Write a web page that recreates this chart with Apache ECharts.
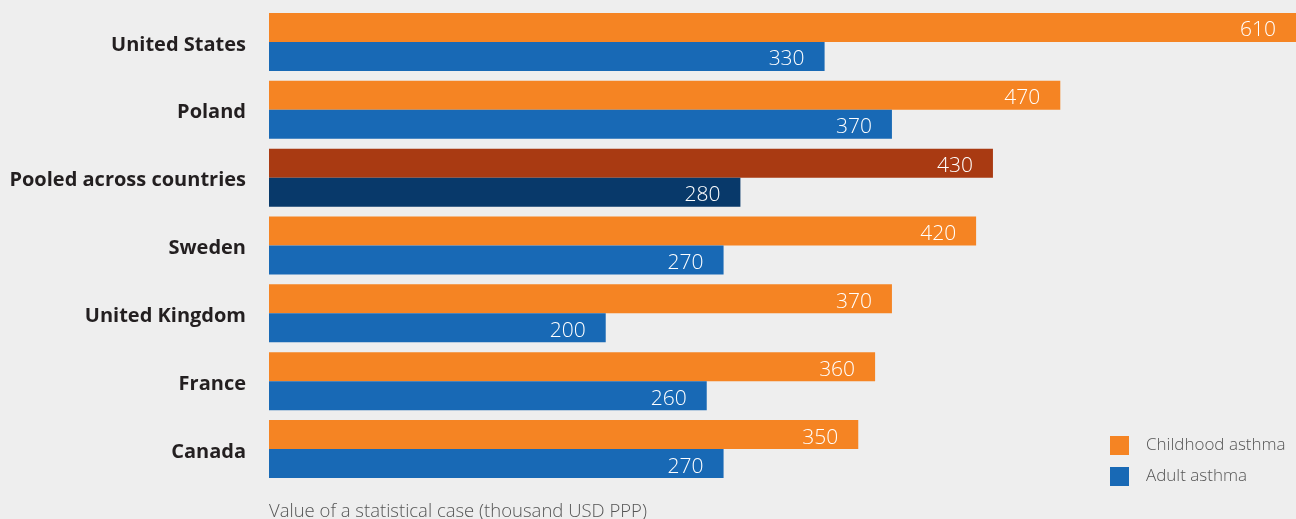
<!DOCTYPE html>
<html><head><meta charset="utf-8">
<script src="https://cdn.jsdelivr.net/npm/echarts@6/dist/echarts.min.js"></script>
<style>html,body{margin:0;padding:0;background:#eeeeee}#c{width:1296px;height:519px}</style>
</head><body><div id="c"></div>
<script>
const categories = ["United States","Poland","Pooled across countries","Sweden","United Kingdom","France","Canada"];
const childhood = [610,470,430,420,370,360,350];
const adult = [330,370,280,270,200,260,270];
const pooledIndex = 2;
const xAxisTitle = "Value of a statistical case (thousand USD PPP)";

const ORANGE = "#f58423", BLUE = "#1869b5", DORANGE = "#a93a12", DBLUE = "#08396a";
const mk = (arr, dark) => arr.map((v,i) => i === pooledIndex ? {value:v, itemStyle:{color:dark}} : v);
const lbl = {show:true, position:'insideRight', distance:20, offset:[0,3], color:'#ffffff', fontFamily:'Open Sans', fontWeight:300, fontSize:21};

const chart = echarts.init(document.getElementById('c'));
chart.setOption({
  backgroundColor:'#eeeeee',
  animation:false,
  grid:{left:269, right:0, top:8, bottom:36, containLabel:false},
  xAxis:{type:'value', min:0, max:610, show:false},
  yAxis:{type:'category', data:categories, inverse:true,
    axisLine:{show:false}, axisTick:{show:false}, splitLine:{show:false},
    axisLabel:{margin:23, formatter:'{a|{value}}',
      rich:{a:{color:'#231f20', fontFamily:'Open Sans', fontWeight:'bold', fontSize:20, padding:[6,0,0,0]}}}},
  legend:{orient:'vertical', left:1110, top:436, padding:0, itemWidth:19, itemHeight:19, itemGap:12,
    icon:'rect', textStyle:{color:'#555555', fontFamily:'Open Sans', fontWeight:300, fontSize:17, padding:[0,0,0,12]},
    data:['Childhood asthma','Adult asthma']},
  title:{text:xAxisTitle, left:264, top:497, textStyle:{color:'#555555', fontFamily:'Open Sans', fontWeight:300, fontSize:18.5}},
  series:[
    {name:'Childhood asthma', type:'bar', data:mk(childhood,DORANGE), itemStyle:{color:ORANGE}, barWidth:29, barGap:'0%', label:lbl},
    {name:'Adult asthma', type:'bar', data:mk(adult,DBLUE), itemStyle:{color:BLUE}, barWidth:29, barGap:'0%', label:lbl}
  ]
});
</script></body></html>
